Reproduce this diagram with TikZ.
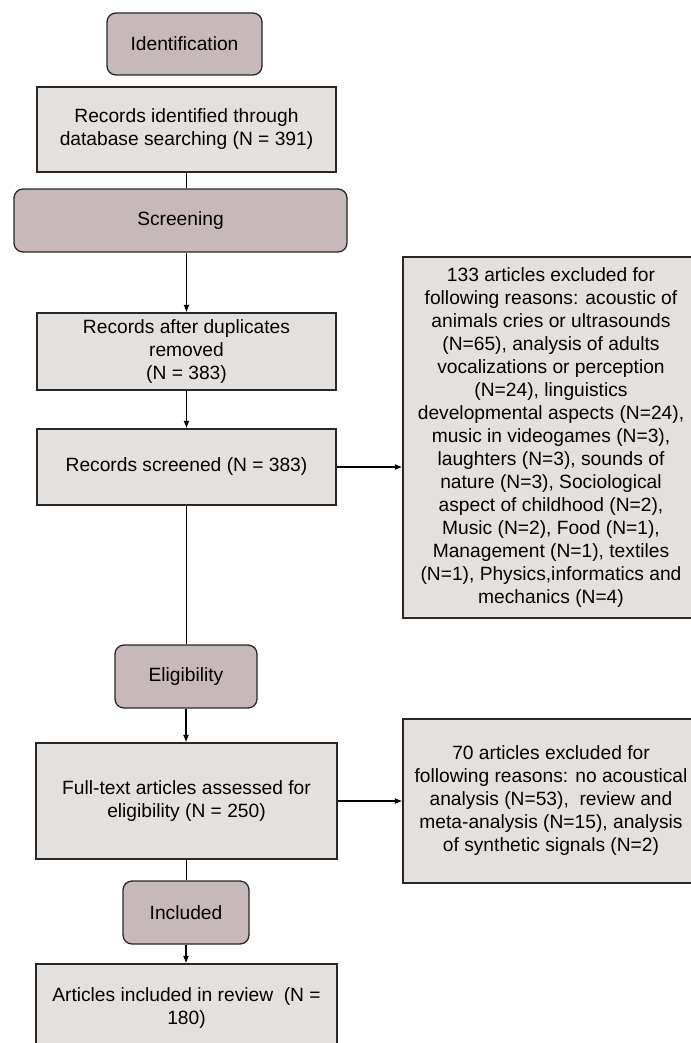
\documentclass[tikz,border=0pt]{standalone}
\usepackage{fontspec}
\setmainfont{Liberation Sans}
\usetikzlibrary{arrows.meta}
\definecolor{phasefill}{RGB}{199,185,185}
\definecolor{boxfill}{RGB}{228,224,222}
\definecolor{edge}{RGB}{40,40,40}
\begin{document}
\begin{tikzpicture}[x=1pt,y=-1pt,
  every node/.style={font=\fontsize{19.2}{23}\selectfont, align=center, inner sep=0pt, text=black},
  phase/.style={draw=edge, line width=1.3pt, fill=phasefill, rounded corners=9pt, minimum width=#1},
  phase/.default=140pt,
  infobox/.style={draw=edge, line width=1.3pt, fill=boxfill, rectangle},
  conn/.style={draw=black, line width=1.1pt},
  arr/.style={conn, -{Latex[length=7.5pt,width=6pt]}}
]
\useasboundingbox (0,0) rectangle (690,1043);
\fill[white] (0,0) rectangle (690,1043);

\node[phase=155pt, minimum height=62pt] (ident) at (184.5,44) {Identification};
\node[infobox, minimum width=299pt, minimum height=85pt] (idrec) at (186.5,129.5) {Records identified through\\database searching (N = 391)};
\node[phase=333pt, minimum height=63pt] (screen) at (180.5,220.5) {Screening};
\node[infobox, minimum width=299pt, minimum height=77pt] (dup) at (186.5,351.5) {Records after duplicates\\removed\\(N = 383)};
\node[infobox, minimum width=299pt, minimum height=76pt] (scr) at (186.5,467) {Records screened (N = 383)};
\node[infobox, minimum width=296pt, minimum height=361pt] (ex1) at (551,437.5) {133 articles excluded for\\following reasons: acoustic of\\animals cries or ultrasounds\\(N=65), analysis of adults\\vocalizations or perception\\(N=24), linguistics\\developmental aspects (N=24),\\music in videogames (N=3),\\laughters (N=3), sounds of\\nature (N=3), Sociological\\aspect of childhood (N=2),\\Music (N=2), Food (N=1),\\Management (N=1), textiles\\(N=1), Physics,informatics and\\mechanics (N=4)};
\node[phase=142pt, minimum height=63pt] (elig) at (186,676.5) {Eligibility};
\node[infobox, minimum width=301pt, minimum height=116pt] (full) at (186.5,801) {Full-text articles assessed for\\eligibility (N = 250)};
\node[infobox, minimum width=296pt, minimum height=164pt] (ex2) at (551,801) {70 articles excluded for\\following reasons: no acoustical\\analysis (N=53),\ \ review and\\meta-analysis (N=15), analysis\\of synthetic signals (N=2)};
\node[phase=126pt, minimum height=63pt] (incl) at (186,912.5) {Included};
\node[infobox, minimum width=301pt, minimum height=88pt] (art) at (186.5,1008) {Articles included in review\ \ (N =\\180)};

\draw[conn] (idrec.south) -- (idrec.south |- screen.north);
\draw[arr] (dup.north |- screen.south) -- (dup.north);
\draw[arr] (dup.south) -- (scr.north);
\draw[arr] (scr.east) -- (scr.east -| ex1.west);
\draw[conn] (scr.south) -- (scr.south |- elig.north);
\draw[arr] (elig.south) -- (elig.south |- full.north);
\draw[arr] (full.east) -- (full.east -| ex2.west);
\draw[conn] (full.south) -- (full.south |- incl.north);
\draw[arr] (incl.south) -- (incl.south |- art.north);
\end{tikzpicture}
\end{document}
